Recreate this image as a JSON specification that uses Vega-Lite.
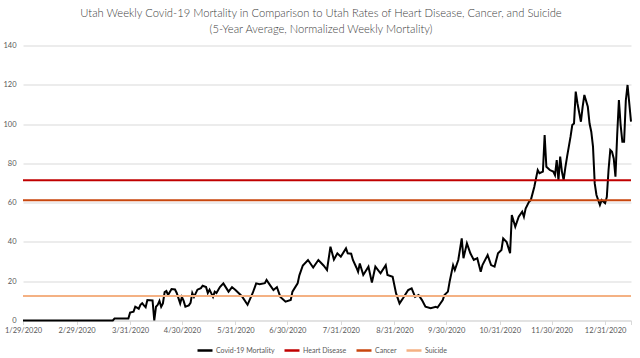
{
  "$schema": "https://vega.github.io/schema/vega-lite/v6.json",
  "width": 608,
  "height": 275,
  "autosize": {"type": "none"},
  "padding": {"left": 23, "top": 45.5, "right": 9, "bottom": 37.5},
  "background": "white",
  "config": {
    "view": {"stroke": null},
    "font": "Lato"
  },
  "title": {
    "text": ["Utah Weekly Covid-19 Mortality in Comparison to Utah Rates of Heart Disease, Cancer, and Suicide", "(5-Year Average, Normalized Weekly Mortality)"],
    "font": "Lato",
    "fontSize": 11.2,
    "fontWeight": 300,
    "color": "#404040",
    "lineHeight": 16.5,
    "anchor": "middle",
    "dx": -6,
    "offset": 6
  },
  "datasets": {
    "covid": [
      {"date": "2020-01-29", "value": 0, "series": "Covid-19 Mortality"},
      {"date": "2020-03-21", "value": 0, "series": "Covid-19 Mortality"},
      {"date": "2020-03-22", "value": 1, "series": "Covid-19 Mortality"},
      {"date": "2020-03-30", "value": 1, "series": "Covid-19 Mortality"},
      {"date": "2020-03-31", "value": 4, "series": "Covid-19 Mortality"},
      {"date": "2020-04-02", "value": 4.5, "series": "Covid-19 Mortality"},
      {"date": "2020-04-03", "value": 7, "series": "Covid-19 Mortality"},
      {"date": "2020-04-05", "value": 6, "series": "Covid-19 Mortality"},
      {"date": "2020-04-06", "value": 8, "series": "Covid-19 Mortality"},
      {"date": "2020-04-07", "value": 8.8, "series": "Covid-19 Mortality"},
      {"date": "2020-04-08", "value": 7.7, "series": "Covid-19 Mortality"},
      {"date": "2020-04-09", "value": 6.8, "series": "Covid-19 Mortality"},
      {"date": "2020-04-10", "value": 10.4, "series": "Covid-19 Mortality"},
      {"date": "2020-04-13", "value": 10.2, "series": "Covid-19 Mortality"},
      {"date": "2020-04-14", "value": 0, "series": "Covid-19 Mortality"},
      {"date": "2020-04-15", "value": 7, "series": "Covid-19 Mortality"},
      {"date": "2020-04-16", "value": 8, "series": "Covid-19 Mortality"},
      {"date": "2020-04-17", "value": 10, "series": "Covid-19 Mortality"},
      {"date": "2020-04-18", "value": 7, "series": "Covid-19 Mortality"},
      {"date": "2020-04-19", "value": 8.7, "series": "Covid-19 Mortality"},
      {"date": "2020-04-20", "value": 14.5, "series": "Covid-19 Mortality"},
      {"date": "2020-04-21", "value": 15, "series": "Covid-19 Mortality"},
      {"date": "2020-04-22", "value": 13, "series": "Covid-19 Mortality"},
      {"date": "2020-04-24", "value": 16, "series": "Covid-19 Mortality"},
      {"date": "2020-04-26", "value": 15.8, "series": "Covid-19 Mortality"},
      {"date": "2020-04-27", "value": 14, "series": "Covid-19 Mortality"},
      {"date": "2020-04-29", "value": 8.7, "series": "Covid-19 Mortality"},
      {"date": "2020-04-30", "value": 12, "series": "Covid-19 Mortality"},
      {"date": "2020-05-01", "value": 10, "series": "Covid-19 Mortality"},
      {"date": "2020-05-02", "value": 7, "series": "Covid-19 Mortality"},
      {"date": "2020-05-04", "value": 7.7, "series": "Covid-19 Mortality"},
      {"date": "2020-05-05", "value": 9, "series": "Covid-19 Mortality"},
      {"date": "2020-05-06", "value": 14, "series": "Covid-19 Mortality"},
      {"date": "2020-05-07", "value": 12, "series": "Covid-19 Mortality"},
      {"date": "2020-05-09", "value": 15.7, "series": "Covid-19 Mortality"},
      {"date": "2020-05-11", "value": 16.5, "series": "Covid-19 Mortality"},
      {"date": "2020-05-12", "value": 17.7, "series": "Covid-19 Mortality"},
      {"date": "2020-05-14", "value": 17, "series": "Covid-19 Mortality"},
      {"date": "2020-05-15", "value": 14, "series": "Covid-19 Mortality"},
      {"date": "2020-05-16", "value": 15.7, "series": "Covid-19 Mortality"},
      {"date": "2020-05-18", "value": 12, "series": "Covid-19 Mortality"},
      {"date": "2020-05-19", "value": 14.7, "series": "Covid-19 Mortality"},
      {"date": "2020-05-20", "value": 14, "series": "Covid-19 Mortality"},
      {"date": "2020-05-22", "value": 17, "series": "Covid-19 Mortality"},
      {"date": "2020-05-24", "value": 18.9, "series": "Covid-19 Mortality"},
      {"date": "2020-05-27", "value": 14.7, "series": "Covid-19 Mortality"},
      {"date": "2020-05-29", "value": 17, "series": "Covid-19 Mortality"},
      {"date": "2020-05-31", "value": 15.5, "series": "Covid-19 Mortality"},
      {"date": "2020-06-03", "value": 13, "series": "Covid-19 Mortality"},
      {"date": "2020-06-04", "value": 12, "series": "Covid-19 Mortality"},
      {"date": "2020-06-07", "value": 8, "series": "Covid-19 Mortality"},
      {"date": "2020-06-10", "value": 14, "series": "Covid-19 Mortality"},
      {"date": "2020-06-12", "value": 18.9, "series": "Covid-19 Mortality"},
      {"date": "2020-06-14", "value": 18.5, "series": "Covid-19 Mortality"},
      {"date": "2020-06-17", "value": 19, "series": "Covid-19 Mortality"},
      {"date": "2020-06-18", "value": 20.6, "series": "Covid-19 Mortality"},
      {"date": "2020-06-20", "value": 18, "series": "Covid-19 Mortality"},
      {"date": "2020-06-22", "value": 15.5, "series": "Covid-19 Mortality"},
      {"date": "2020-06-24", "value": 17, "series": "Covid-19 Mortality"},
      {"date": "2020-06-26", "value": 12, "series": "Covid-19 Mortality"},
      {"date": "2020-06-29", "value": 9.6, "series": "Covid-19 Mortality"},
      {"date": "2020-07-02", "value": 10.4, "series": "Covid-19 Mortality"},
      {"date": "2020-07-03", "value": 14.7, "series": "Covid-19 Mortality"},
      {"date": "2020-07-06", "value": 18.9, "series": "Covid-19 Mortality"},
      {"date": "2020-07-07", "value": 23, "series": "Covid-19 Mortality"},
      {"date": "2020-07-09", "value": 28, "series": "Covid-19 Mortality"},
      {"date": "2020-07-12", "value": 30.8, "series": "Covid-19 Mortality"},
      {"date": "2020-07-15", "value": 27, "series": "Covid-19 Mortality"},
      {"date": "2020-07-18", "value": 30.8, "series": "Covid-19 Mortality"},
      {"date": "2020-07-21", "value": 28, "series": "Covid-19 Mortality"},
      {"date": "2020-07-23", "value": 25.7, "series": "Covid-19 Mortality"},
      {"date": "2020-07-25", "value": 37.6, "series": "Covid-19 Mortality"},
      {"date": "2020-07-27", "value": 31, "series": "Covid-19 Mortality"},
      {"date": "2020-07-29", "value": 34.2, "series": "Covid-19 Mortality"},
      {"date": "2020-07-31", "value": 32.5, "series": "Covid-19 Mortality"},
      {"date": "2020-08-03", "value": 36.7, "series": "Covid-19 Mortality"},
      {"date": "2020-08-04", "value": 34.2, "series": "Covid-19 Mortality"},
      {"date": "2020-08-06", "value": 34, "series": "Covid-19 Mortality"},
      {"date": "2020-08-07", "value": 30.8, "series": "Covid-19 Mortality"},
      {"date": "2020-08-09", "value": 27, "series": "Covid-19 Mortality"},
      {"date": "2020-08-10", "value": 24.8, "series": "Covid-19 Mortality"},
      {"date": "2020-08-11", "value": 29, "series": "Covid-19 Mortality"},
      {"date": "2020-08-13", "value": 23.2, "series": "Covid-19 Mortality"},
      {"date": "2020-08-16", "value": 27.4, "series": "Covid-19 Mortality"},
      {"date": "2020-08-18", "value": 19.3, "series": "Covid-19 Mortality"},
      {"date": "2020-08-20", "value": 27.4, "series": "Covid-19 Mortality"},
      {"date": "2020-08-23", "value": 24, "series": "Covid-19 Mortality"},
      {"date": "2020-08-26", "value": 28.2, "series": "Covid-19 Mortality"},
      {"date": "2020-08-27", "value": 23.2, "series": "Covid-19 Mortality"},
      {"date": "2020-08-30", "value": 22.3, "series": "Covid-19 Mortality"},
      {"date": "2020-09-01", "value": 13.8, "series": "Covid-19 Mortality"},
      {"date": "2020-09-03", "value": 8.7, "series": "Covid-19 Mortality"},
      {"date": "2020-09-05", "value": 11.3, "series": "Covid-19 Mortality"},
      {"date": "2020-09-08", "value": 15.5, "series": "Covid-19 Mortality"},
      {"date": "2020-09-10", "value": 16.4, "series": "Covid-19 Mortality"},
      {"date": "2020-09-12", "value": 12, "series": "Covid-19 Mortality"},
      {"date": "2020-09-14", "value": 13, "series": "Covid-19 Mortality"},
      {"date": "2020-09-16", "value": 10.4, "series": "Covid-19 Mortality"},
      {"date": "2020-09-18", "value": 7, "series": "Covid-19 Mortality"},
      {"date": "2020-09-21", "value": 6.2, "series": "Covid-19 Mortality"},
      {"date": "2020-09-24", "value": 7, "series": "Covid-19 Mortality"},
      {"date": "2020-09-25", "value": 6.6, "series": "Covid-19 Mortality"},
      {"date": "2020-09-28", "value": 10.4, "series": "Covid-19 Mortality"},
      {"date": "2020-09-29", "value": 13, "series": "Covid-19 Mortality"},
      {"date": "2020-10-01", "value": 14.7, "series": "Covid-19 Mortality"},
      {"date": "2020-10-02", "value": 19.8, "series": "Covid-19 Mortality"},
      {"date": "2020-10-04", "value": 28.2, "series": "Covid-19 Mortality"},
      {"date": "2020-10-05", "value": 25.7, "series": "Covid-19 Mortality"},
      {"date": "2020-10-07", "value": 30.8, "series": "Covid-19 Mortality"},
      {"date": "2020-10-09", "value": 41.8, "series": "Covid-19 Mortality"},
      {"date": "2020-10-10", "value": 31.7, "series": "Covid-19 Mortality"},
      {"date": "2020-10-12", "value": 39.3, "series": "Covid-19 Mortality"},
      {"date": "2020-10-14", "value": 34.2, "series": "Covid-19 Mortality"},
      {"date": "2020-10-16", "value": 30.8, "series": "Covid-19 Mortality"},
      {"date": "2020-10-18", "value": 31.7, "series": "Covid-19 Mortality"},
      {"date": "2020-10-20", "value": 24.8, "series": "Covid-19 Mortality"},
      {"date": "2020-10-21", "value": 28.2, "series": "Covid-19 Mortality"},
      {"date": "2020-10-24", "value": 33.3, "series": "Covid-19 Mortality"},
      {"date": "2020-10-26", "value": 28.2, "series": "Covid-19 Mortality"},
      {"date": "2020-10-28", "value": 27.4, "series": "Covid-19 Mortality"},
      {"date": "2020-10-30", "value": 34.2, "series": "Covid-19 Mortality"},
      {"date": "2020-11-01", "value": 35.9, "series": "Covid-19 Mortality"},
      {"date": "2020-11-02", "value": 41.8, "series": "Covid-19 Mortality"},
      {"date": "2020-11-04", "value": 40, "series": "Covid-19 Mortality"},
      {"date": "2020-11-06", "value": 34.2, "series": "Covid-19 Mortality"},
      {"date": "2020-11-07", "value": 53.7, "series": "Covid-19 Mortality"},
      {"date": "2020-11-09", "value": 47.7, "series": "Covid-19 Mortality"},
      {"date": "2020-11-11", "value": 52.8, "series": "Covid-19 Mortality"},
      {"date": "2020-11-13", "value": 55.4, "series": "Covid-19 Mortality"},
      {"date": "2020-11-14", "value": 52.8, "series": "Covid-19 Mortality"},
      {"date": "2020-11-15", "value": 57, "series": "Covid-19 Mortality"},
      {"date": "2020-11-17", "value": 60.5, "series": "Covid-19 Mortality"},
      {"date": "2020-11-18", "value": 61.3, "series": "Covid-19 Mortality"},
      {"date": "2020-11-20", "value": 68, "series": "Covid-19 Mortality"},
      {"date": "2020-11-22", "value": 76.6, "series": "Covid-19 Mortality"},
      {"date": "2020-11-23", "value": 75, "series": "Covid-19 Mortality"},
      {"date": "2020-11-25", "value": 75.8, "series": "Covid-19 Mortality"},
      {"date": "2020-11-26", "value": 94.4, "series": "Covid-19 Mortality"},
      {"date": "2020-11-27", "value": 78.3, "series": "Covid-19 Mortality"},
      {"date": "2020-11-29", "value": 76.6, "series": "Covid-19 Mortality"},
      {"date": "2020-12-01", "value": 75.8, "series": "Covid-19 Mortality"},
      {"date": "2020-12-02", "value": 74, "series": "Covid-19 Mortality"},
      {"date": "2020-12-03", "value": 81.7, "series": "Covid-19 Mortality"},
      {"date": "2020-12-04", "value": 71.3, "series": "Covid-19 Mortality"},
      {"date": "2020-12-05", "value": 83.4, "series": "Covid-19 Mortality"},
      {"date": "2020-12-06", "value": 75.8, "series": "Covid-19 Mortality"},
      {"date": "2020-12-07", "value": 71.5, "series": "Covid-19 Mortality"},
      {"date": "2020-12-08", "value": 78, "series": "Covid-19 Mortality"},
      {"date": "2020-12-09", "value": 83.4, "series": "Covid-19 Mortality"},
      {"date": "2020-12-11", "value": 93.6, "series": "Covid-19 Mortality"},
      {"date": "2020-12-12", "value": 99.5, "series": "Covid-19 Mortality"},
      {"date": "2020-12-13", "value": 100.3, "series": "Covid-19 Mortality"},
      {"date": "2020-12-14", "value": 116.5, "series": "Covid-19 Mortality"},
      {"date": "2020-12-15", "value": 110.6, "series": "Covid-19 Mortality"},
      {"date": "2020-12-17", "value": 101.2, "series": "Covid-19 Mortality"},
      {"date": "2020-12-18", "value": 108.8, "series": "Covid-19 Mortality"},
      {"date": "2020-12-19", "value": 114.8, "series": "Covid-19 Mortality"},
      {"date": "2020-12-21", "value": 108.8, "series": "Covid-19 Mortality"},
      {"date": "2020-12-22", "value": 100.3, "series": "Covid-19 Mortality"},
      {"date": "2020-12-23", "value": 96.1, "series": "Covid-19 Mortality"},
      {"date": "2020-12-24", "value": 88.5, "series": "Covid-19 Mortality"},
      {"date": "2020-12-25", "value": 69.8, "series": "Covid-19 Mortality"},
      {"date": "2020-12-26", "value": 63.9, "series": "Covid-19 Mortality"},
      {"date": "2020-12-28", "value": 58.8, "series": "Covid-19 Mortality"},
      {"date": "2020-12-29", "value": 61.3, "series": "Covid-19 Mortality"},
      {"date": "2020-12-31", "value": 59.7, "series": "Covid-19 Mortality"},
      {"date": "2021-01-01", "value": 62.9, "series": "Covid-19 Mortality"},
      {"date": "2021-01-02", "value": 76.6, "series": "Covid-19 Mortality"},
      {"date": "2021-01-03", "value": 86.8, "series": "Covid-19 Mortality"},
      {"date": "2021-01-04", "value": 85.9, "series": "Covid-19 Mortality"},
      {"date": "2021-01-05", "value": 82.5, "series": "Covid-19 Mortality"},
      {"date": "2021-01-06", "value": 73.2, "series": "Covid-19 Mortality"},
      {"date": "2021-01-07", "value": 94.4, "series": "Covid-19 Mortality"},
      {"date": "2021-01-08", "value": 112.2, "series": "Covid-19 Mortality"},
      {"date": "2021-01-09", "value": 99.5, "series": "Covid-19 Mortality"},
      {"date": "2021-01-10", "value": 91, "series": "Covid-19 Mortality"},
      {"date": "2021-01-11", "value": 91, "series": "Covid-19 Mortality"},
      {"date": "2021-01-12", "value": 112, "series": "Covid-19 Mortality"},
      {"date": "2021-01-13", "value": 119.9, "series": "Covid-19 Mortality"},
      {"date": "2021-01-15", "value": 101.2, "series": "Covid-19 Mortality"}
    ],
    "baselines": [
      {"series": "Heart Disease", "value": 71.4},
      {"series": "Cancer", "value": 61.2},
      {"series": "Suicide", "value": 12.5}
    ]
  },
  "encoding": {
    "y": {
      "field": "value",
      "type": "quantitative",
      "scale": {"domain": [0, 140], "nice": false},
      "axis": {
        "title": null,
        "values": [0, 20, 40, 60, 80, 100, 120, 140],
        "domain": false,
        "ticks": false,
        "grid": true,
        "gridColor": "#D9D9D9",
        "gridWidth": 1,
        "labelOverlap": false,
        "labelFont": "Lato",
        "labelFontSize": 7.5,
        "labelColor": "#595959",
        "labelPadding": 7
      }
    },
    "color": {
      "field": "series",
      "type": "nominal",
      "scale": {
        "domain": ["Covid-19 Mortality", "Heart Disease", "Cancer", "Suicide"],
        "range": ["#000000", "#C00000", "#C8460E", "#F4B183"]
      },
      "legend": {
        "title": null,
        "orient": "none",
        "direction": "horizontal",
        "legendX": 173,
        "legendY": 296,
        "symbolType": "stroke",
        "symbolSize": 225,
        "symbolStrokeWidth": 2.5,
        "labelFont": "Lato",
        "labelFontSize": 7,
        "labelColor": "#595959",
        "labelOffset": 2,
        "columnPadding": 4
      }
    }
  },
  "layer": [
    {
      "data": {"name": "covid"},
      "mark": {"type": "line", "strokeWidth": 2, "interpolate": "linear"},
      "encoding": {
        "x": {
          "field": "date",
          "type": "temporal",
          "scale": {"type": "utc", "domain": [{"year": 2020, "month": 1, "date": 29, "utc": true}, {"year": 2021, "month": 1, "date": 15, "utc": true}], "nice": false},
          "axis": {
            "title": null,
            "grid": false,
            "domainColor": "#D9D9D9",
            "domainWidth": 1,
            "tickColor": "#D9D9D9",
            "tickSize": 4,
            "labelFont": "Lato",
            "labelFontSize": 7.5,
            "labelColor": "#595959",
            "labelPadding": 2,
            "labelOverlap": false,
            "labelFlush": false,
            "values": [
              {"year": 2020, "month": 1, "date": 29, "utc": true},
              {"year": 2020, "month": 2, "date": 29, "utc": true},
              {"year": 2020, "month": 3, "date": 31, "utc": true},
              {"year": 2020, "month": 4, "date": 30, "utc": true},
              {"year": 2020, "month": 5, "date": 31, "utc": true},
              {"year": 2020, "month": 6, "date": 30, "utc": true},
              {"year": 2020, "month": 7, "date": 31, "utc": true},
              {"year": 2020, "month": 8, "date": 31, "utc": true},
              {"year": 2020, "month": 9, "date": 30, "utc": true},
              {"year": 2020, "month": 10, "date": 31, "utc": true},
              {"year": 2020, "month": 11, "date": 30, "utc": true},
              {"year": 2020, "month": 12, "date": 31, "utc": true},
              {"year": 2021, "month": 1, "date": 15, "utc": true}
            ],
            "labelExpr": "utcyear(datum.value) == 2021 ? '' : utcFormat(datum.value, '%-m/%-d/%Y')"
          }
        }
      }
    },
    {
      "data": {"name": "baselines"},
      "mark": {"type": "rule", "strokeWidth": 2}
    }
  ]
}
